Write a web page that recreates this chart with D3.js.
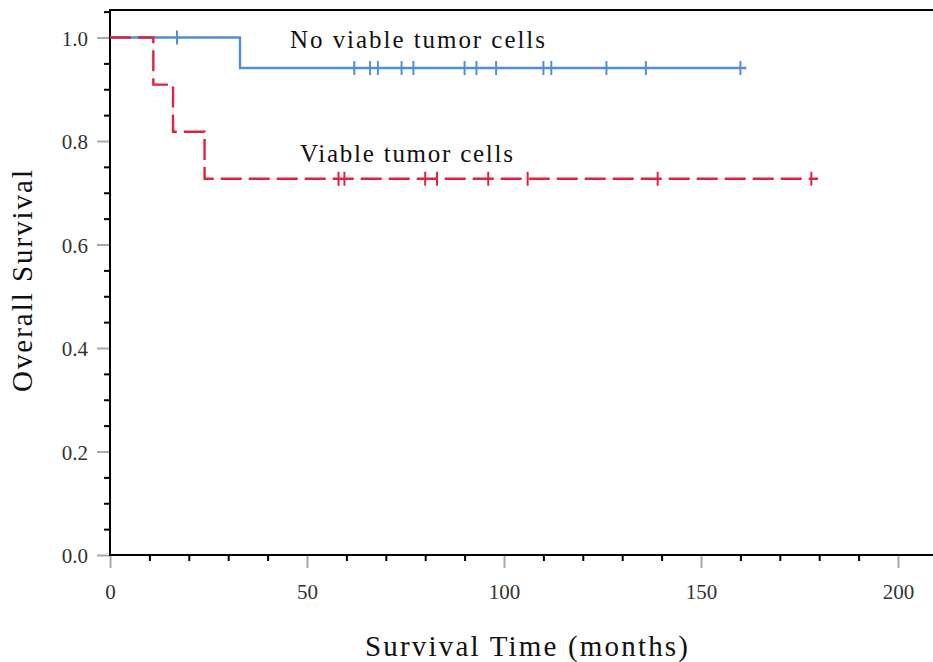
<!DOCTYPE html>
<html>
<head>
<meta charset="utf-8">
<script src="https://cdn.jsdelivr.net/npm/d3@7"></script>
<style>
  html, body { margin: 0; padding: 0; background: #fff; }
  svg { display: block; }
  text { font-family: "Liberation Serif", "DejaVu Serif", serif; }
</style>
</head>
<body>
<svg id="chart" width="933" height="662"></svg>
<script>
// ---- data ----
const groupLabels = ["No viable tumor cells", "Viable tumor cells"];
const noViableEventTimes = [0, 33];
const noViableSurvival = [1.0, 0.941];
const noViableLastTime = 161.5;
const noViableCensorTimes = [17, 62, 66, 68, 74, 77, 90, 93, 98, 110, 112, 126, 136, 160];

const viableEventTimes = [0, 11, 16, 24];
const viableSurvival = [1.0, 0.909, 0.818, 0.727];
const viableLastTime = 179.7;
const viableCensorTimes = [58, 59.5, 80, 83, 96, 106, 139, 178];

const xMajorTicks = [0, 50, 100, 150, 200];
const xMinorTicks = [10, 20, 30, 40, 60, 70, 80, 90, 110, 120, 130, 140, 160, 170, 180, 190];
const yMajorTicks = [0.0, 0.2, 0.4, 0.6, 0.8, 1.0];
const yMinorTicks = [0.05, 0.1, 0.15, 0.25, 0.3, 0.35, 0.45, 0.5, 0.55, 0.65, 0.7, 0.75, 0.85, 0.9, 0.95, 1.05];
const xTitle = "Survival Time (months)";
const yTitle = "Overall Survival";

// ---- layout ----
const svg = d3.select("#chart");
const x = d3.scaleLinear().domain([0, 200]).range([110, 898]);
const y = d3.scaleLinear().domain([0, 1]).range([555, 37.5]);
const xEnd = 933;
const yTop = y(1.053);

const blue = "#4f8fd6";
const red = "#e1213f";
const majorTickColor = "#a9a9a9";

// frame
svg.append("line").attr("x1", x(0)).attr("x2", xEnd).attr("y1", yTop).attr("y2", yTop)
  .attr("stroke", "#000").attr("stroke-width", 2);

// y axis
const yAxisMajor = d3.axisLeft(y).tickValues(yMajorTicks).tickSize(13).tickPadding(9)
  .tickFormat(d3.format(".1f"));
const gy = svg.append("g").attr("transform", `translate(${x(0)},0)`).call(yAxisMajor);
gy.select(".domain").remove();
gy.selectAll(".tick line").attr("stroke", majorTickColor).attr("stroke-width", 2);
gy.selectAll(".tick text").attr("font-size", 21).attr("fill", "#333").attr("dy", "0.38em")
  .attr("font-family", "Liberation Serif, serif");

const yAxisMinor = d3.axisLeft(y).tickValues(yMinorTicks).tickSize(6).tickFormat("");
const gy2 = svg.append("g").attr("transform", `translate(${x(0)},0)`).call(yAxisMinor);
gy2.select(".domain").remove();
gy2.selectAll(".tick line").attr("stroke", "#000").attr("stroke-width", 2);

// x axis
const xAxisMajor = d3.axisBottom(x).tickValues(xMajorTicks).tickSize(13).tickPadding(16)
  .tickFormat(d3.format("d"));
const gx = svg.append("g").attr("transform", `translate(0,${y(0)})`).call(xAxisMajor);
gx.select(".domain").remove();
gx.selectAll(".tick line").attr("stroke", majorTickColor).attr("stroke-width", 2);
gx.selectAll(".tick text").attr("font-size", 21).attr("fill", "#333")
  .attr("font-family", "Liberation Serif, serif");

const xAxisMinor = d3.axisBottom(x).tickValues(xMinorTicks).tickSize(6).tickFormat("");
const gx2 = svg.append("g").attr("transform", `translate(0,${y(0)})`).call(xAxisMinor);
gx2.select(".domain").remove();
gx2.selectAll(".tick line").attr("stroke", "#000").attr("stroke-width", 2);

// axis lines
svg.append("line").attr("x1", x(0)).attr("x2", x(0)).attr("y1", yTop - 1).attr("y2", y(0) + 1)
  .attr("stroke", "#000").attr("stroke-width", 2);
svg.append("line").attr("x1", x(0) - 1).attr("x2", xEnd).attr("y1", y(0)).attr("y2", y(0))
  .attr("stroke", "#000").attr("stroke-width", 2);

// ---- curves ----
function stepPoints(times, surv, last) {
  const pts = times.map((t, i) => [t, surv[i]]);
  pts.push([last, surv[surv.length - 1]]);
  return pts;
}
function survAt(times, surv, t) {
  let s = surv[0];
  for (let i = 0; i < times.length; i++) if (times[i] <= t) s = surv[i];
  return s;
}
const line = d3.line().x(d => x(d[0])).y(d => y(d[1])).curve(d3.curveStepAfter);

function drawGroup(times, surv, last, censors, color, dash) {
  const g = svg.append("g");
  g.append("path").attr("d", line(stepPoints(times, surv, last)))
    .attr("fill", "none").attr("stroke", color).attr("stroke-width", 2.4)
    .attr("stroke-dasharray", dash);
  g.selectAll("line.censor").data(censors).join("line").attr("class", "censor")
    .attr("x1", d => x(d)).attr("x2", d => x(d))
    .attr("y1", d => y(survAt(times, surv, d)) - 7)
    .attr("y2", d => y(survAt(times, surv, d)) + 7)
    .attr("stroke", color).attr("stroke-width", 2);
}
drawGroup(noViableEventTimes, noViableSurvival, noViableLastTime, noViableCensorTimes, blue, null);
drawGroup(viableEventTimes, viableSurvival, viableLastTime, viableCensorTimes, red, "21,7");

// ---- labels ----
svg.append("text").attr("x", 290).attr("y", 48).attr("font-size", 25).attr("fill", "#111")
  .attr("textLength", 255).attr("lengthAdjust", "spacing").text(groupLabels[0]);
svg.append("text").attr("x", 300).attr("y", 162).attr("font-size", 25).attr("fill", "#111")
  .attr("textLength", 213).attr("lengthAdjust", "spacing").text(groupLabels[1]);

svg.append("text").attr("x", 365).attr("y", 656).attr("font-size", 29).attr("fill", "#111")
  .attr("textLength", 323).attr("lengthAdjust", "spacing").text(xTitle);

svg.append("text").attr("transform", "translate(32,392) rotate(-90)")
  .attr("font-size", 29).attr("fill", "#111")
  .attr("textLength", 222).attr("lengthAdjust", "spacing").text(yTitle);
</script>
</body>
</html>
